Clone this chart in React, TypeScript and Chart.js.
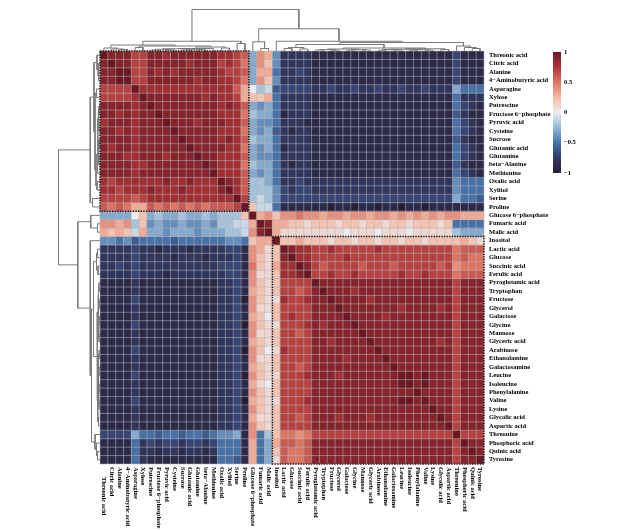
import React, { useEffect, useRef } from "react";
import { Chart, registerables } from "chart.js";

Chart.register(...registerables);

// Metabolites in clustered order (rows and columns share this order)
const metabolites: string[] = [
  "Threonic acid", "Citric acid", "Alanine", "4\u2212Aminobutyric acid", "Asparagine",
  "Xylose", "Putrescine", "Fructose 6\u2212phosphate", "Pyruvic acid", "Cysteine",
  "Sucrose", "Glutamic acid", "Glutamine", "beta\u2212Alanine", "Methionine",
  "Oxalic acid", "Xylitol", "Serine", "Proline", "Glucose 6\u2212phosphate",
  "Fumaric acid", "Malic acid", "Inositol", "Lactic acid", "Glucose",
  "Succinic acid", "Ferulic acid", "Pyroglutamic acid", "Tryptophan", "Fructose",
  "Glycerol", "Galactose", "Glycine", "Mannose", "Glyceric acid",
  "Arabinose", "Ethanolamine", "Galactosamine", "Leucine", "Isoleucine",
  "Phenylalanine", "Valine", "Lysine", "Glycolic acid", "Aspartic acid",
  "Threonine", "Phosphoric acid", "Quinic acid", "Tyrosine",
];

// Correlation codes (lower triangle, row i holds columns 0..i):
// A=-1.0, B=-0.9, ... K=0.0, ... T=0.9, U=1.0
const corrLowerTriangle: string[] = [
  "U",
  "TU",
  "TTU",
  "TTUU",
  "RRRRU",
  "RRRRSU",
  "TTTTSTU",
  "TTSTSTTU",
  "STTTSTTTU",
  "TTSTSTTTTU",
  "TTTTSTTTTTU",
  "TSTTSTTTTTTU",
  "TTTSSTTTSTTTU",
  "TTTTSSTTTTTTTU",
  "TTTTSTTTTTTTTTU",
  "SRSSSSSSTSSTSSSU",
  "SSRSSSTSSSTSSSSTU",
  "RRRRQRSSSSSSSSSSSU",
  "QPQPNNQPQPQPQPQQQRU",
  "HHHHKM" + "HIHHIHHIH" + "III" + "M" + "U",
  "OONO" + "I" + "M" + "GHGGHGGHG" + "IIJJ" + "N" + "U",
  "NMNM" + "J" + "N" + "HHGHHHGHH" + "HII" + "J" + "O" + "T" + "U",
  "GGFG" + "E" + "F" + "FFFEFFFFF" + "FGG" + "F" + "MNN" + "U",
  "CCCC" + "D" + "C" + "CBCCCBCCC" + "CDD" + "B" + "ONL" + "M" + "U",
  "CCCC" + "D" + "C" + "CCCBCCCBC" + "CCD" + "B" + "OML" + "M" + "T" + "U",
  "CCDC" + "D" + "C" + "CCCCCCCCC" + "DDD" + "B" + "PML" + "N" + "SS" + "U",
  "CCCC" + "D" + "C" + "CCBCCCCCC" + "CDD" + "B" + "OLL" + "M" + "SST" + "U",
  "BBBBCBBBBBBBBBBCCDB" + "OMLM" + "RRRR" + "U",
  "BBBBCBBBBBBBBBBCCDB" + "NMLM" + "RRQR" + "T" + "U",
  "BBBBDBBBBBBBBBBCCDA" + "OMLL" + "SRRS" + "TT" + "U",
  "BBBBCBBBBBBBBBBCCDB" + "OLLM" + "RRRR" + "TTT" + "U",
  "BBBBCBBBBBBBBBBCCDB" + "NMKM" + "RSRR" + "TTTT" + "U",
  "BBBBDBBBBBBBBBBCCDA" + "OMLL" + "RRRS" + "TSTTT" + "U",
  "BBBBCBBBBBBBBBBCCDB" + "OLLM" + "RRQR" + "TTTTTT" + "U",
  "BBBBCBBBBBBBBBBCCDB" + "NMLM" + "RRRR" + "TTSTTTT" + "U",
  "BBBBDBBBBBBBBBBCCDA" + "OMKL" + "SRRR" + "TTTTTTTT" + "U",
  "BBBBCBBBBBBBBBBCCDB" + "OLLM" + "RRRR" + "TTTTSTTTT" + "U",
  "BBBBCBBBBBBBBBBCCDB" + "NMLM" + "RRQR" + "TTTTTTTTTT" + "U",
  "BBBBDBBBBBBBBBBCCDA" + "OMLL" + "RRRS" + "TTTSTTTTTTT" + "U",
  "BBBBCBBBBBBBBBBCCDB" + "NLKM" + "RRRR" + "TTTTTTTTTTTU" + "U",
  "BBBBCBBBBBBBBBBCCDB" + "OMLM" + "RRRR" + "TTTTTTTTTTTTT" + "U",
  "BBBBDBBBBBBBBBBCCDA" + "NMLL" + "RRRS" + "TTTTTTTTTTTUUT" + "U",
  "BBBBCBBBBBBBBBBCCDB" + "OMLM" + "RRRR" + "TTTTTTTTTTTTTTT" + "U",
  "BBBBCBBBBBBBBBBCCDB" + "NLLM" + "RRQR" + "TTTSTTTSTTTTTTTT" + "U",
  "BBBBCBBBBBBBBBBCCDB" + "OMLM" + "RRRR" + "TTTTTTTTTTTTTTTTT" + "U",
  "DDDD" + "H" + "F" + "FEFFEFFEF" + "GGH" + "B" + "OFIM" + "PPOP" + "RRRRRRRRRRRRRRRRRR" + "U",
  "BBBB" + "F" + "C" + "DCDDCDDCD" + "FFF" + "B" + "NFHN" + "QQPQ" + "TTTTTTTTTTTTTTTTTT" + "R" + "U",
  "BBBB" + "F" + "C" + "CBCCBCCBC" + "FFF" + "B" + "NFHM" + "QPPQ" + "TTTTTTTTTTTTTTTTTT" + "R" + "T" + "U",
  "BBBB" + "F" + "C" + "BBBBBBBBB" + "FFE" + "B" + "NFHL" + "QPPQ" + "TTTTTTTTTTTTTTTTTT" + "R" + "TT" + "U",
];

// Hierarchical clustering: [left, right, height]; ids < 49 are leaves, id 49+k is merge k
const clusterMerges: [number, number, number][] = [
  [2, 3, 0.06],    // 49
  [1, 49, 0.08],   // 50
  [0, 50, 0.12],   // 51
  [4, 5, 0.14],    // 52
  [6, 7, 0.04],    // 53
  [8, 9, 0.05],    // 54
  [53, 54, 0.07],  // 55
  [10, 11, 0.04],  // 56
  [12, 13, 0.05],  // 57
  [56, 57, 0.07],  // 58
  [55, 58, 0.09],  // 59
  [14, 59, 0.1],   // 60
  [15, 16, 0.12],  // 61
  [60, 61, 0.16],  // 62
  [52, 62, 0.2],   // 63
  [51, 63, 0.24],  // 64
  [17, 18, 0.3],   // 65
  [64, 65, 0.39],  // 66
  [20, 21, 0.1],   // 67
  [19, 67, 0.37],  // 68
  [23, 24, 0.1],   // 69
  [25, 26, 0.08],  // 70
  [69, 70, 0.14],  // 71
  [27, 28, 0.04],  // 72
  [29, 30, 0.03],  // 73
  [72, 73, 0.06],  // 74
  [31, 32, 0.03],  // 75
  [33, 34, 0.04],  // 76
  [75, 76, 0.05],  // 77
  [74, 77, 0.08],  // 78
  [35, 36, 0.03],  // 79
  [37, 38, 0.04],  // 80
  [79, 80, 0.06],  // 81
  [39, 40, 0.03],  // 82
  [41, 42, 0.03],  // 83
  [82, 83, 0.05],  // 84
  [81, 84, 0.07],  // 85
  [43, 44, 0.06],  // 86
  [85, 86, 0.09],  // 87
  [78, 87, 0.12],  // 88
  [71, 88, 0.26],  // 89
  [47, 48, 0.1],   // 90
  [46, 90, 0.14],  // 91
  [45, 91, 0.2],   // 92
  [89, 92, 0.34],  // 93
  [22, 93, 0.39],  // 94
  [68, 94, 0.89],  // 95
  [66, 95, 1.66],  // 96
];

// Dotted cluster boxes: [first index, last index]
const clusterBoxes: [number, number][] = [
  [0, 18],
  [22, 48],
];

const colorbarTicks: number[] = [1, 0.5, 0, -0.5, -1];

const colorStops: [number, string][] = [
  [-1, "#261f36"],
  [-0.75, "#323a66"],
  [-0.5, "#4772a8"],
  [-0.25, "#94b8d6"],
  [0, "#eaedf0"],
  [0.25, "#f5b9a2"],
  [0.5, "#dc7564"],
  [0.75, "#ad3438"],
  [0.9, "#86242c"],
  [1, "#6a1822"],
];

const LABEL_FONT = 'bold 6.5px "Liberation Serif", "Times New Roman", serif';
const DENDRO_COLOR = "#7a7a7a";
const PX_PER_HEIGHT = 25;

function decodeCorr(ch: string): number {
  return (ch.charCodeAt(0) - 75) / 10;
}

function buildMatrix(): number[][] {
  const n = metabolites.length;
  const m: number[][] = Array.from({ length: n }, () => new Array(n).fill(0));
  corrLowerTriangle.forEach((row, i) => {
    for (let j = 0; j <= i; j++) {
      const v = decodeCorr(row[j]);
      m[i][j] = v;
      m[j][i] = v;
    }
  });
  return m;
}

function hexToRgb(h: string): number[] {
  return [parseInt(h.slice(1, 3), 16), parseInt(h.slice(3, 5), 16), parseInt(h.slice(5, 7), 16)];
}

function colorFor(v: number): string {
  const c = Math.max(-1, Math.min(1, v));
  for (let k = 0; k < colorStops.length - 1; k++) {
    const [v0, h0] = colorStops[k];
    const [v1, h1] = colorStops[k + 1];
    if (c >= v0 && c <= v1) {
      const t = (c - v0) / (v1 - v0);
      const a = hexToRgb(h0);
      const b = hexToRgb(h1);
      const r = a.map((x, i) => Math.round(x + (b[i] - x) * t));
      return `rgb(${r[0]},${r[1]},${r[2]})`;
    }
  }
  return colorStops[colorStops.length - 1][1];
}

type Seg = { xl: number; hl: number; xr: number; hr: number; h: number };

function dendroSegments(): Seg[] {
  const n = metabolites.length;
  const pos: number[] = [];
  const ht: number[] = [];
  for (let i = 0; i < n; i++) {
    pos[i] = i + 0.5;
    ht[i] = 0;
  }
  const segs: Seg[] = [];
  clusterMerges.forEach(([l, r, h], k) => {
    const id = n + k;
    pos[id] = (pos[l] + pos[r]) / 2;
    ht[id] = h;
    segs.push({ xl: pos[l], hl: ht[l], xr: pos[r], hr: ht[r], h });
  });
  return segs;
}

const HM_LEFT = 100;
const HM_TOP = 51;
const HM_W = 384;
const HM_H = 413;
const PAD = 4;

export default function App() {
  const heatRef = useRef<HTMLCanvasElement | null>(null);
  const topRef = useRef<HTMLCanvasElement | null>(null);
  const leftRef = useRef<HTMLCanvasElement | null>(null);
  const barRef = useRef<HTMLCanvasElement | null>(null);

  useEffect(() => {
    const n = metabolites.length;
    const matrix = buildMatrix();
    const segs = dendroSegments();
    const charts: Chart[] = [];

    const heatDecor = {
      id: "heatDecor",
      afterDatasetsDraw(chart: any) {
        const { ctx } = chart;
        const x = chart.scales.x;
        const y = chart.scales.y;
        ctx.save();
        // cell borders
        ctx.strokeStyle = "rgba(185,180,185,0.8)";
        ctx.lineWidth = 0.7;
        ctx.beginPath();
        for (let i = 0; i <= n; i++) {
          const px = x.getPixelForValue(i - 0.5);
          ctx.moveTo(px, y.getPixelForValue(0));
          ctx.lineTo(px, y.getPixelForValue(n));
        }
        for (let i = 0; i <= n; i++) {
          const py = y.getPixelForValue(i);
          ctx.moveTo(x.getPixelForValue(-0.5), py);
          ctx.lineTo(x.getPixelForValue(n - 0.5), py);
        }
        ctx.stroke();
        // dotted cluster boxes
        ctx.setLineDash([1.3, 1.3]);
        ctx.lineWidth = 1.5;
        ctx.strokeStyle = "#111111";
        clusterBoxes.forEach(([a, b]) => {
          const x0 = x.getPixelForValue(a - 0.5);
          const x1 = x.getPixelForValue(b + 0.5);
          const y0 = y.getPixelForValue(a);
          const y1 = y.getPixelForValue(b + 1);
          ctx.strokeRect(x0, y0, x1 - x0, y1 - y0);
        });
        ctx.setLineDash([]);
        // labels
        ctx.fillStyle = "#000000";
        ctx.font = LABEL_FONT;
        ctx.textAlign = "left";
        ctx.textBaseline = "middle";
        const right = x.getPixelForValue(n - 0.5);
        const bottom = y.getPixelForValue(n);
        metabolites.forEach((name, i) => {
          ctx.fillText(name, right + 5, y.getPixelForValue(i + 0.5));
        });
        metabolites.forEach((name, i) => {
          ctx.save();
          ctx.translate(x.getPixelForValue(i), bottom + 3 + (i === 0 ? 10 : 0));
          ctx.rotate(Math.PI / 2);
          ctx.fillText(name, 0, 0);
          ctx.restore();
        });
        ctx.restore();
      },
    };

    if (heatRef.current) {
      charts.push(
        new Chart(heatRef.current, {
          type: "bar",
          data: {
            labels: metabolites,
            datasets: metabolites.map((_, i) => ({
              data: metabolites.map(() => [i, i + 1]),
              backgroundColor: metabolites.map((__, j) => colorFor(matrix[i][j])),
              borderWidth: 0,
              grouped: false,
              barPercentage: 1,
              categoryPercentage: 1,
            })) as any,
          },
          options: {
            responsive: false,
            animation: false,
            events: [],
            layout: { padding: { left: PAD, top: PAD, right: 641 - HM_LEFT - HM_W, bottom: 530 - HM_TOP - HM_H } },
            plugins: { legend: { display: false }, tooltip: { enabled: false } },
            scales: {
              x: { display: false, offset: true },
              y: { display: false, type: "linear", min: 0, max: n, reverse: true },
            },
          },
          plugins: [heatDecor],
        } as any)
      );
    }

    const lineDs = (pts: { x: number; y: number }[]) => ({
      data: pts,
      showLine: true,
      borderColor: DENDRO_COLOR,
      borderWidth: 1,
      pointRadius: 0,
      tension: 0,
      clip: false,
    });

    if (topRef.current) {
      charts.push(
        new Chart(topRef.current, {
          type: "scatter",
          data: {
            datasets: segs.map((s) =>
              lineDs([
                { x: s.xl, y: s.hl },
                { x: s.xl, y: s.h },
                { x: s.xr, y: s.h },
                { x: s.xr, y: s.hr },
              ])
            ),
          },
          options: {
            responsive: false,
            animation: false,
            events: [],
            plugins: { legend: { display: false }, tooltip: { enabled: false } },
            scales: {
              x: { display: false, type: "linear", min: 0, max: n },
              y: { display: false, type: "linear", min: 0, max: HM_TOP / PX_PER_HEIGHT },
            },
          },
        } as any)
      );
    }

    if (leftRef.current) {
      charts.push(
        new Chart(leftRef.current, {
          type: "scatter",
          data: {
            datasets: segs.map((s) =>
              lineDs([
                { x: s.hl, y: s.xl },
                { x: s.h, y: s.xl },
                { x: s.h, y: s.xr },
                { x: s.hr, y: s.xr },
              ])
            ),
          },
          options: {
            responsive: false,
            animation: false,
            events: [],
            plugins: { legend: { display: false }, tooltip: { enabled: false } },
            scales: {
              x: { display: false, type: "linear", min: 0, max: HM_LEFT / PX_PER_HEIGHT, reverse: true },
              y: { display: false, type: "linear", min: 0, max: n, reverse: true },
            },
          },
        } as any)
      );
    }

    const barTicks = {
      id: "barTicks",
      afterDatasetsDraw(chart: any) {
        const { ctx } = chart;
        const y = chart.scales.y;
        const area = chart.chartArea;
        ctx.save();
        ctx.fillStyle = "#000000";
        ctx.font = LABEL_FONT;
        ctx.textAlign = "left";
        ctx.textBaseline = "middle";
        colorbarTicks.forEach((v) => {
          const label = v < 0 ? "\u2212" + String(Math.abs(v)) : String(v);
          ctx.fillText(label, area.right + 3, y.getPixelForValue(v));
        });
        ctx.restore();
      },
    };

    if (barRef.current) {
      charts.push(
        new Chart(barRef.current, {
          type: "bar",
          data: {
            labels: [""],
            datasets: [
              {
                data: [[-1, 1]],
                borderWidth: 0,
                barPercentage: 1,
                categoryPercentage: 1,
                backgroundColor: (c: any) => {
                  const area = c.chart.chartArea;
                  if (!area) return "#cccccc";
                  const ys = c.chart.scales.y;
                  const g = c.chart.ctx.createLinearGradient(0, ys.getPixelForValue(-1), 0, ys.getPixelForValue(1));
                  colorStops.forEach(([v, col]) => g.addColorStop((v + 1) / 2, col));
                  return g;
                },
              },
            ] as any,
          },
          options: {
            responsive: false,
            animation: false,
            events: [],
            layout: { padding: { left: 0, right: 32, top: 6, bottom: 6 } },
            plugins: { legend: { display: false }, tooltip: { enabled: false } },
            scales: {
              x: { display: false },
              y: { display: false, type: "linear", min: -1, max: 1 },
            },
          },
          plugins: [barTicks],
        } as any)
      );
    }

    return () => {
      charts.forEach((c) => c.destroy());
    };
  }, []);

  const abs = (left: number, top: number, w: number, h: number): React.CSSProperties => ({
    position: "absolute",
    left,
    top,
    width: w,
    height: h,
  });

  return (
    <div style={{ position: "absolute", left: 0, top: 0, width: 641, height: 530, background: "#ffffff" }}>
      <canvas ref={topRef} width={HM_W} height={HM_TOP} style={abs(HM_LEFT, 0, HM_W, HM_TOP)} />
      <canvas ref={leftRef} width={HM_LEFT} height={HM_H} style={abs(0, HM_TOP, HM_LEFT, HM_H)} />
      <canvas
        ref={heatRef}
        width={641 - HM_LEFT + PAD}
        height={530 - HM_TOP + PAD}
        style={abs(HM_LEFT - PAD, HM_TOP - PAD, 641 - HM_LEFT + PAD, 530 - HM_TOP + PAD)}
      />
      <canvas ref={barRef} width={40} height={133} style={abs(553, 46, 40, 133)} />
    </div>
  );
}
